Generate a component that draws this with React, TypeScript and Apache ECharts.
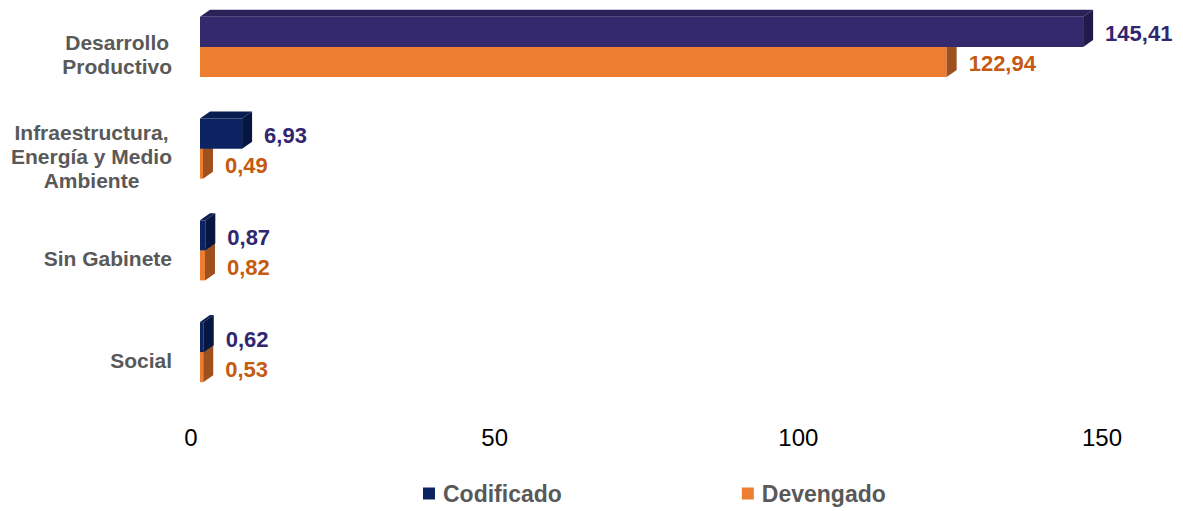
import React, { useEffect, useRef } from "react";
import * as echarts from "echarts";

const categories = [
  "Desarrollo\nProductivo",
  "Infraestructura,\nEnergía y Medio\nAmbiente",
  "Sin Gabinete",
  "Social",
];
const codificado = [145.41, 6.93, 0.87, 0.62];
const devengado = [122.94, 0.49, 0.82, 0.53];
const seriesNames = ["Codificado", "Devengado"];
const axisMin = 0;
const axisMax = 150;
const axisInterval = 50;

const FONT = '"Liberation Sans", Arial, sans-serif';
const DX = 10;
const DY = -7;
const SHIFT = 4; // chart div is raised by this many pixels

// face colours: [front, top, side]
const codFaces = [
  ["#33296C", "#2A2159", "#221A4B"],
  ["#0B2461", "#0A1D50", "#061640"],
];
const devFaces = ["#ED7D31", "#CF6A24", "#9E511E"];

const fmt = (v: number) => v.toFixed(2).replace(".", ",");

function makeRender(which: number) {
  return (params: any, api: any) => {
    const idx = api.value(0);
    const val = api.value(1);
    const start = api.coord([0, idx]);
    const end = api.coord([val, idx]);
    const band = api.size([0, 1])[1];
    const h = band * 0.295;
    const x0 = start[0];
    const x1 = end[0];
    const yTop = which === 0 ? start[1] - h : start[1];
    const yBot = yTop + h;
    const faces =
      which === 0 ? (params.dataIndex === 0 ? codFaces[0] : codFaces[1]) : devFaces;
    const labelColor = which === 0 ? "#312670" : "#C55A11";
    return {
      type: "group",
      children: [
        {
          type: "polygon",
          shape: {
            points: [
              [x0, yTop],
              [x0 + DX, yTop + DY],
              [x1 + DX, yTop + DY],
              [x1, yTop],
            ],
          },
          style: { fill: faces[1] },
        },
        {
          type: "rect",
          shape: { x: x0, y: yTop, width: Math.max(x1 - x0, 0.5), height: h },
          style: { fill: faces[0] },
        },
        {
          type: "polygon",
          shape: {
            points: [
              [x1, yTop],
              [x1 + DX, yTop + DY],
              [x1 + DX, yBot + DY],
              [x1, yBot],
            ],
          },
          style: { fill: faces[2] },
        },
        {
          type: "text",
          x: x1 + DX + 12,
          y: (yTop + yBot) / 2 + 2,
          style: {
            text: fmt(val),
            fill: labelColor,
            fontSize: 22,
            fontWeight: "bold",
            fontFamily: FONT,
            align: "left",
            verticalAlign: "middle",
          },
        },
      ],
    };
  };
}

export default function App() {
  const ref = useRef<HTMLDivElement>(null);
  useEffect(() => {
    if (!ref.current) return;
    const chart = echarts.init(ref.current, undefined, { renderer: "svg" });
    chart.setOption({
      animation: false,
      backgroundColor: "#ffffff",
      grid: { left: 200, right: 72, top: 0, bottom: 108, containLabel: false },
      legend: {
        data: seriesNames,
        left: 423,
        top: 482 + SHIFT,
        padding: 0,
        icon: "rect",
        itemWidth: 12,
        itemHeight: 12,
        itemGap: 180,
        textStyle: {
          color: "#595959",
          fontSize: 23,
          fontWeight: "bold",
          fontFamily: FONT,
          padding: [0, 0, 0, 3],
        },
      },
      xAxis: {
        type: "value",
        min: axisMin,
        max: axisMax,
        interval: axisInterval,
        axisLine: { show: false },
        axisTick: { show: false },
        splitLine: { show: false },
        axisLabel: {
          margin: 22,
          color: "#000000",
          fontSize: 24,
          fontFamily: FONT,
          padding: [0, 18, 0, 0],
        },
      },
      yAxis: {
        type: "category",
        inverse: true,
        data: categories,
        axisLine: { show: false },
        axisTick: { show: false },
        splitLine: { show: false },
        axisLabel: {
          margin: 28,
          align: "right",
          padding: [16, 0, 0, 0],
          formatter: (v: string) =>
            v
              .split("\n")
              .map((l) => `{c|${l}}`)
              .join("\n"),
          rich: {
            c: {
              align: "center",
              color: "#595959",
              fontSize: 21,
              fontWeight: "bold",
              fontFamily: FONT,
              lineHeight: 24,
            },
          },
        },
      },
      series: [
        {
          name: seriesNames[1],
          type: "custom",
          itemStyle: { color: "#ED7D31" },
          encode: { x: 1, y: 0 },
          data: devengado.map((v, i) => [i, v]),
          renderItem: makeRender(1),
        },
        {
          name: seriesNames[0],
          type: "custom",
          itemStyle: { color: "#0B2461" },
          encode: { x: 1, y: 0 },
          data: codificado.map((v, i) => [i, v]),
          renderItem: makeRender(0),
        },
      ],
    });
    return () => chart.dispose();
  }, []);
  return (
    <div
      ref={ref}
      style={{
        position: "fixed",
        left: 0,
        top: -SHIFT,
        width: 1183,
        height: 511 + SHIFT,
      }}
    />
  );
}
